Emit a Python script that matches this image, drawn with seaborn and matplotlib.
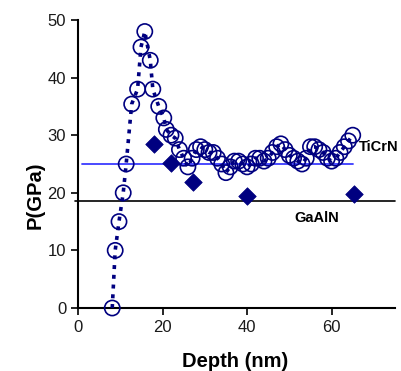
import matplotlib
matplotlib.use("Agg")
import matplotlib.pyplot as plt
import seaborn as sns
import pandas as pd

# Pressure vs. indentation depth (circles joined by a dotted curve)
depth = [8.1, 8.8, 9.7, 10.7, 11.4, 12.7, 14.1, 14.9, 15.8, 17.1, 17.7, 19.1,
         20.3, 20.9, 22.0, 23.0, 24.0, 25.0, 26.0, 27.0, 28.0, 29.0, 30.0,
         31.0, 32.0, 33.0, 34.0, 35.0, 36.0, 37.0, 38.0, 39.0, 40.0, 41.0,
         42.0, 43.0, 44.0, 45.0, 46.0, 47.0, 48.0, 49.0, 50.0, 51.0, 52.0,
         53.0, 54.0, 55.0, 56.0, 57.0, 58.0, 59.0, 60.0, 61.0, 62.0, 63.0,
         64.0, 65.0]
pressure = [0.0, 10.0, 15.0, 20.0, 25.0, 35.4, 38.0, 45.3, 48.0, 43.0, 38.0,
            35.0, 33.0, 31.0, 30.0, 29.5, 27.5, 26.0, 24.5, 26.0, 27.5, 28.0,
            27.5, 27.0, 27.0, 26.0, 25.0, 23.5, 24.5, 25.5, 25.5, 25.0, 24.5,
            25.0, 26.0, 26.0, 25.5, 26.0, 27.0, 28.0, 28.5, 27.5, 26.5, 26.0,
            25.5, 25.0, 26.0, 28.0, 28.0, 27.5, 27.0, 26.0, 25.5, 26.0, 27.0,
            28.0, 29.0, 30.0]

# Separate measurements (diamonds)
diamond_depth = [17.9, 21.9, 27.1, 40.1, 65.2]
diamond_pressure = [28.5, 25.1, 21.9, 19.5, 19.8]

# Reference hardness levels
ticrn_level = 25.0
ticrn_span = [0.9, 65.0]
gaaln_level = 18.6

xticks = [0, 20, 40, 60]
yticks = [0, 10, 20, 30, 40, 50]

sns.set_style("ticks")
plt.rcParams["font.family"] = ["Liberation Sans", "DejaVu Sans"]

navy = "#000080"
curve = pd.DataFrame({"Depth": depth, "P": pressure})
pts = pd.DataFrame({"Depth": diamond_depth, "P": diamond_pressure})

fig = plt.figure(figsize=(4.01, 3.71), dpi=100)
ax = fig.add_axes([78 / 401, 1 - 308 / 371, 317 / 401, 288 / 371])

ax.axhline(gaaln_level, color="black", lw=1.2, zorder=1, clip_on=False,
           xmin=-0.01, xmax=1.0)
sns.lineplot(x=ticrn_span, y=[ticrn_level, ticrn_level], color="#3a3aff",
             lw=1.3, ax=ax, zorder=2)
sns.lineplot(data=curve, x="Depth", y="P", sort=False, color=navy, lw=2.6,
             linestyle=(0, (1.1, 1.6)), ax=ax, zorder=3)
sns.scatterplot(data=curve, x="Depth", y="P", marker="o", s=120,
                facecolor="none", edgecolor=navy, linewidth=1.2, ax=ax,
                zorder=4, clip_on=False)
sns.scatterplot(data=pts, x="Depth", y="P", marker="D", s=80, color=navy,
                edgecolor=navy, linewidth=0.5, ax=ax, zorder=5)

ax.text(66.4, 28.0, "TiCrN", fontsize=10.5, fontweight="bold", va="center",
        ha="left", color="black")
ax.text(51.1, 15.6, "GaAlN", fontsize=10.5, fontweight="bold", va="center",
        ha="left", color="black")

ax.set_xlim(0, 75)
ax.set_ylim(0, 50)
ax.set_xticks(xticks)
ax.set_yticks(yticks)
ax.tick_params(axis="both", labelsize=12, width=1.2, length=5, color="black",
               labelcolor="#1a1a1a")
for side in ("left", "bottom"):
    ax.spines[side].set_linewidth(1.5)
    ax.spines[side].set_color("black")
sns.despine(ax=ax)

ax.set_xlabel("Depth (nm)", fontsize=14.5, fontweight="bold", color="black")
ax.set_ylabel("P(GPa)", fontsize=14.5, fontweight="bold", color="black")
ax.xaxis.set_label_coords(0.495, -0.152)
ax.yaxis.set_label_coords(-0.106, 0.392)

fig.savefig("out.png", dpi=100)
